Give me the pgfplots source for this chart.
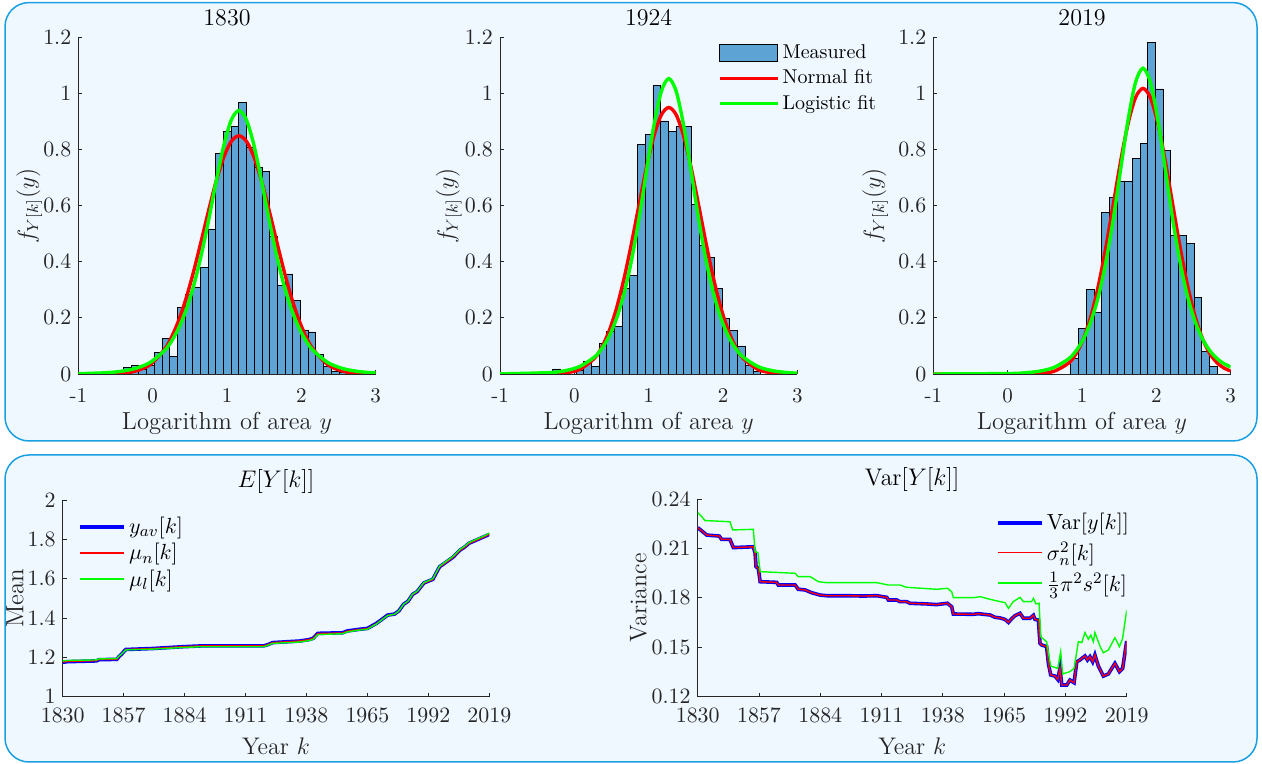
\documentclass[border=0pt]{standalone}
\usepackage{amsmath}
\usepackage{pgfplots}
\pgfplotsset{compat=1.18}
\definecolor{panelfill}{RGB}{240,248,255}
\definecolor{panelborder}{RGB}{25,160,225}
\definecolor{barfill}{RGB}{93,164,212}
\definecolor{axcol}{RGB}{38,38,38}
\definecolor{fitred}{RGB}{255,0,0}
\definecolor{fitgreen}{RGB}{0,255,0}
\definecolor{lineblue}{RGB}{0,0,255}

\pgfplotsset{
  every axis title shift=0pt,
  mybase/.style={
    scale only axis, axis lines*=left,
    axis line style={axcol, line width=0.45pt},
    tick align=inside, major tick length=2pt,
    tick style={axcol, line width=0.45pt},
    tick label style={font=\fontsize{10.5}{12}\selectfont, text=axcol},
    x tick label style={yshift=-2.5pt},
    label style={font=\fontsize{11.5}{13}\selectfont, text=axcol},
    title style={font=\fontsize{12}{14}\selectfont, text=black},
    legend cell align=left,
  },
  hist/.style={
    mybase, width=148.7pt, height=168.15pt,
    xmin=-1, xmax=3, ymin=0, ymax=1.2,
    xtick={-1,0,1,2,3}, xticklabels={-1,0,1,2,3},
    x tick label style={yshift=-1.2pt},
    ytick={0,0.2,0.4,0.6,0.8,1,1.2},
    xlabel={Logarithm of area $y$},
    ylabel={$f_{Y[k]}(y)$},
    xlabel style={at={(axis description cs:0.5,-0.146)}, anchor=center, font=\fontsize{12.3}{14}\selectfont},
    ylabel style={font=\fontsize{12}{14}\selectfont},
    title style={at={(axis description cs:0.5,1.059)}, anchor=center},
  },
  bars/.style={ybar interval, fill=barfill, draw=black, line width=0.4pt,
    legend image code/.code={\draw[fill=barfill, draw=black, line width=0.5pt] (0pt,-4.4pt) rectangle (29pt,4.4pt);}},
  nfit/.style={fitred, line width=1.7pt, smooth,
    legend image code/.code={\draw[draw=fitred, line width=1.7pt] (0pt,0pt) -- (29pt,0pt);}},
  lfit/.style={fitgreen, line width=1.7pt, smooth,
    legend image code/.code={\draw[draw=fitgreen, line width=1.7pt] (0pt,0pt) -- (29pt,0pt);}},
  ts/.style={
    mybase, xmin=1830, xmax=2019,
    xtick={1830,1857,1884,1911,1938,1965,1992,2019},
    x tick label style={/pgf/number format/1000 sep={}},
    xlabel={Year $k$},
    xlabel style={at={(axis description cs:0.5,-0.25)}, anchor=center, font=\fontsize{12}{14}\selectfont},
    legend style={draw=none, fill=none, font=\fontsize{11}{13}\selectfont, inner sep=0pt, row sep=0.4pt,
      nodes={inner sep=1.5pt}},
  },
  tblue/.style={lineblue, line width=1.8pt,
    legend image code/.code={\draw[draw=lineblue, line width=1.8pt] (0pt,0pt) -- (22pt,0pt);}},
  tred/.style={fitred, line width=0.7pt,
    legend image code/.code={\draw[draw=fitred, line width=0.95pt] (0pt,0pt) -- (22pt,0pt);}},
  tgreen/.style={fitgreen, line width=0.7pt,
    legend image code/.code={\draw[draw=fitgreen, line width=0.95pt] (0pt,0pt) -- (22pt,0pt);}},
}

\begin{document}
\begin{tikzpicture}
\useasboundingbox (0pt,0pt) rectangle (631pt,382pt);
\fill[white] (0pt,0pt) rectangle (631pt,382pt);
\draw[panelborder, fill=panelfill, line width=0.75pt, rounded corners=12pt] (2.5pt,161.5pt) rectangle (628.5pt,380.7pt);
\draw[panelborder, fill=panelfill, line width=0.75pt, rounded corners=12pt] (2.5pt,1pt) rectangle (628.5pt,154.5pt);

% ---------- 1830 ----------
\begin{axis}[hist, at={(39.15pt,195pt)}, anchor=south west, title={1830},
  ylabel style={at={(axis description cs:-0.165,0.5)}, anchor=center}]
\addplot[bars] coordinates {(-0.3925,0.022) (-0.2890,0.031) (-0.1855,0.016) (-0.0820,0.030) (0.0215,0.078) (0.1250,0.126) (0.2285,0.063) (0.3320,0.238) (0.4355,0.285) (0.5390,0.309) (0.6425,0.381) (0.7460,0.516) (0.8495,0.787) (0.9530,0.866) (1.0565,0.882) (1.1600,0.969) (1.2635,0.809) (1.3670,0.737) (1.4705,0.724) (1.5740,0.492) (1.6775,0.316) (1.7810,0.357) (1.8845,0.262) (1.9880,0.157) (2.0915,0.150) (2.1950,0.070) (2.2985,0.026) (2.4020,0.011) (2.5055,0.005) (2.6090,0)};
\addplot[nfit] coordinates {(-1,0) (-0.64,0.0005) (-0.44,0.0025) (-0.24,0.0099) (-0.04,0.0322) (0.16,0.0876) (0.26,0.135) (0.36,0.198) (0.46,0.279) (0.56,0.375) (0.66,0.482) (0.76,0.591) (0.86,0.693) (0.96,0.776) (1.06,0.831) (1.16,0.85) (1.26,0.831) (1.36,0.776) (1.46,0.693) (1.56,0.591) (1.66,0.482) (1.76,0.375) (1.86,0.279) (1.96,0.198) (2.06,0.135) (2.16,0.0876) (2.36,0.0322) (2.56,0.0099) (2.76,0.0025) (2.96,0.0005) (3,0.0004)};
\addplot[lfit] coordinates {(-1,0.0011) (-0.64,0.0043) (-0.44,0.0091) (-0.24,0.0193) (-0.04,0.0403) (0.16,0.0835) (0.26,0.1196) (0.36,0.1691) (0.46,0.2357) (0.56,0.3232) (0.66,0.4318) (0.76,0.5588) (0.86,0.6945) (0.96,0.819) (1.06,0.9076) (1.16,0.94) (1.26,0.9076) (1.36,0.819) (1.46,0.6945) (1.56,0.5588) (1.66,0.4318) (1.76,0.3232) (1.86,0.2357) (1.96,0.1691) (2.06,0.1196) (2.16,0.0835) (2.36,0.0403) (2.56,0.0193) (2.76,0.0091) (2.96,0.0043) (3,0.0039)};
\end{axis}

% ---------- 1924 ----------
\begin{axis}[hist, at={(250pt,195pt)}, anchor=south west, title={1924},
  ylabel style={at={(axis description cs:-0.172,0.5)}, anchor=center},
  legend style={at={(0.732,0.99)}, anchor=north west, draw=none, fill=none,
    font=\fontsize{10}{12}\selectfont, inner sep=0pt, row sep=1.2pt,
    nodes={inner sep=1.5pt}}]
\addplot[bars] coordinates {(-0.2890,0.018) (-0.1855,0) (-0.0820,0) (0.0215,0.012) (0.1250,0.044) (0.2285,0.026) (0.3320,0.110) (0.4355,0.153) (0.5390,0.171) (0.6425,0.306) (0.7460,0.352) (0.8495,0.819) (0.9530,0.856) (1.0565,1.029) (1.1600,0.903) (1.2635,0.867) (1.3670,0.882) (1.4705,0.882) (1.5740,0.604) (1.6775,0.459) (1.7810,0.415) (1.8845,0.306) (1.9880,0.199) (2.0915,0.154) (2.1950,0.100) (2.2985,0.030) (2.4020,0.010) (2.5055,0)};
\addlegendentry{Measured}
\addplot[nfit] coordinates {(-1,0) (-0.33,0.0007) (-0.13,0.0037) (0.07,0.016) (0.27,0.0559) (0.37,0.0958) (0.47,0.155) (0.57,0.2372) (0.67,0.3427) (0.77,0.4682) (0.87,0.6043) (0.97,0.7368) (1.07,0.849) (1.17,0.9245) (1.27,0.951) (1.37,0.9245) (1.47,0.849) (1.57,0.7368) (1.67,0.6043) (1.77,0.4682) (1.87,0.3427) (1.97,0.2372) (2.07,0.155) (2.17,0.0958) (2.27,0.0559) (2.47,0.016) (2.67,0.0037) (2.87,0.0007) (3,0.0002)};
\addlegendentry{Normal fit}
\addplot[lfit] coordinates {(-1,0.0003) (-0.33,0.005) (-0.13,0.0115) (0.07,0.0265) (0.27,0.0604) (0.37,0.0906) (0.47,0.1356) (0.57,0.2) (0.67,0.2889) (0.77,0.4076) (0.87,0.5554) (0.97,0.7237) (1.07,0.8868) (1.17,1.0085) (1.27,1.054) (1.37,1.0085) (1.47,0.8868) (1.57,0.7237) (1.67,0.5554) (1.77,0.4076) (1.87,0.2889) (1.97,0.2) (2.07,0.1356) (2.17,0.0906) (2.27,0.0604) (2.47,0.0265) (2.67,0.0115) (2.87,0.005) (3,0.0029)};
\addlegendentry{Logistic fit}
\end{axis}

% ---------- 2019 ----------
\begin{axis}[hist, at={(466.65pt,195pt)}, anchor=south west, title={2019},
  ylabel style={at={(axis description cs:-0.195,0.5)}, anchor=center}]
\addplot[bars] coordinates {(0.8495,0.054) (0.9530,0.163) (1.0565,0.302) (1.1600,0.220) (1.2635,0.577) (1.3670,0.630) (1.4705,0.686) (1.5740,0.687) (1.6775,0.769) (1.7810,0.823) (1.8845,1.182) (1.9880,1.017) (2.0915,0.797) (2.1950,0.495) (2.2985,0.494) (2.4020,0.466) (2.5055,0.274) (2.6090,0.080) (2.7125,0.026) (2.8160,0)};
\addplot[nfit] coordinates {(-1,0) (0.22,0.0002) (0.42,0.0017) (0.62,0.0093) (0.82,0.0391) (0.92,0.0725) (1.02,0.1264) (1.12,0.2061) (1.22,0.315) (1.32,0.4509) (1.42,0.6047) (1.52,0.7599) (1.62,0.8944) (1.72,0.9863) (1.82,1.019) (1.92,0.9863) (2.02,0.8944) (2.12,0.7599) (2.22,0.6047) (2.32,0.4509) (2.42,0.315) (2.52,0.2061) (2.62,0.1264) (2.72,0.0725) (2.82,0.0391) (2.92,0.0197) (3,0.0109)};
\addplot[lfit] coordinates {(-1,0) (0,0.0016) (0.22,0.0041) (0.42,0.0097) (0.62,0.023) (0.82,0.0541) (0.92,0.0828) (1.02,0.1253) (1.12,0.188) (1.22,0.2765) (1.32,0.3979) (1.42,0.5516) (1.52,0.7311) (1.62,0.9071) (1.72,1.0406) (1.82,1.091) (1.92,1.0406) (2.02,0.9071) (2.12,0.7311) (2.22,0.5516) (2.32,0.3979) (2.42,0.2765) (2.52,0.188) (2.62,0.1253) (2.72,0.0828) (2.82,0.0541) (2.92,0.0353) (3,0.025)};
\end{axis}

% ---------- Mean ----------
\begin{axis}[ts, at={(31.35pt,33.65pt)}, anchor=south west, width=213.3pt, height=98.35pt,
  ymin=1, ymax=2, ytick={1,1.2,1.4,1.6,1.8,2},
  ylabel={Mean}, ylabel style={at={(axis description cs:-0.112,0.5)}, anchor=center, font=\fontsize{12.5}{14}\selectfont},
  title={$E[Y[k]]$}, title style={at={(axis description cs:0.5,1.093)}, anchor=center},
  legend style={at={(0.036,0.93)}, anchor=north west}]
\addplot[tblue] coordinates {(1830,1.175) (1832,1.178) (1845,1.182) (1846,1.188) (1854,1.19) (1855,1.205) (1856,1.215) (1857.5,1.235) (1858,1.24) (1870,1.245) (1883,1.254) (1891,1.258) (1919,1.258) (1921,1.265) (1923,1.275) (1935,1.283) (1939,1.29) (1941,1.297) (1943,1.322) (1954,1.325) (1956,1.334) (1961,1.342) (1965,1.347) (1967,1.36) (1969,1.373) (1972,1.398) (1974,1.415) (1977,1.42) (1979,1.437) (1981,1.47) (1983,1.485) (1985,1.52) (1987,1.534) (1990,1.578) (1994,1.597) (1996,1.64) (1997,1.661) (2000,1.685) (2003,1.71) (2006,1.745) (2008,1.76) (2010,1.78) (2013,1.795) (2015,1.805) (2017,1.815) (2019,1.825)};
\addlegendentry{$y_{av}[k]$}
\addplot[tred] coordinates {(1830,1.176) (1832,1.179) (1845,1.183) (1846,1.189) (1854,1.19) (1855,1.205) (1856,1.215) (1857.5,1.235) (1858,1.24) (1870,1.245) (1883,1.254) (1891,1.258) (1919,1.258) (1921,1.265) (1923,1.275) (1935,1.283) (1939,1.29) (1941,1.297) (1943,1.321) (1954,1.324) (1956,1.333) (1961,1.341) (1965,1.346) (1967,1.359) (1969,1.372) (1972,1.397) (1974,1.414) (1977,1.419) (1979,1.436) (1981,1.469) (1983,1.484) (1985,1.519) (1987,1.533) (1990,1.577) (1994,1.596) (1996,1.639) (1997,1.66) (2000,1.684) (2003,1.709) (2006,1.744) (2008,1.759) (2010,1.779) (2013,1.794) (2015,1.804) (2017,1.814) (2019,1.826)};
\addlegendentry{$\mu_n[k]$}
\addplot[tgreen] coordinates {(1830,1.182) (1832,1.184) (1845,1.187) (1846,1.192) (1854,1.194) (1855,1.207) (1856,1.216) (1857.5,1.233) (1858,1.238) (1870,1.242) (1883,1.25) (1891,1.254) (1919,1.254) (1921,1.262) (1923,1.271) (1935,1.278) (1939,1.285) (1941,1.292) (1943,1.316) (1954,1.32) (1956,1.329) (1961,1.338) (1965,1.343) (1967,1.357) (1969,1.37) (1972,1.396) (1974,1.413) (1977,1.419) (1979,1.437) (1981,1.47) (1983,1.486) (1985,1.522) (1987,1.536) (1990,1.58) (1994,1.6) (1996,1.643) (1997,1.664) (2000,1.689) (2003,1.714) (2006,1.749) (2008,1.764) (2010,1.784) (2013,1.799) (2015,1.809) (2017,1.819) (2019,1.832)};
\addlegendentry{$\mu_l[k]$}
\end{axis}

% ---------- Variance ----------
\begin{axis}[ts, at={(348.85pt,33.65pt)}, anchor=south west, width=214.5pt, height=98.85pt,
  ymin=0.12, ymax=0.24, ytick={0.12,0.15,0.18,0.21,0.24},
  yticklabel style={/pgf/number format/.cd, fixed, fixed zerofill, precision=2},
  ylabel={Variance}, ylabel style={at={(axis description cs:-0.138,0.5)}, anchor=center, font=\fontsize{12}{14}\selectfont},
  title={$\mathrm{Var}[Y[k]]$}, title style={at={(axis description cs:0.5,1.097)}, anchor=center},
  legend style={at={(0.695,0.945)}, anchor=north west, row sep=1.6pt}]
\addplot[tblue] coordinates {(1830,0.2226) (1831.8,0.2206) (1834,0.2181) (1839.5,0.2175) (1840.5,0.2155) (1844.2,0.2155) (1845.7,0.2105) (1854.5,0.211) (1855.3,0.207) (1855.7,0.1989) (1856.7,0.1979) (1857.5,0.1898) (1864.8,0.1894) (1865.5,0.1878) (1872.9,0.1878) (1874.3,0.1852) (1877.3,0.1848) (1880.2,0.1831) (1883.9,0.1817) (1886.8,0.1813) (1895.6,0.1813) (1903,0.1811) (1908.9,0.1813) (1913.3,0.1803) (1914,0.1787) (1917.7,0.1787) (1919,0.1777) (1922,0.1777) (1923.5,0.1767) (1930.9,0.1763) (1935.3,0.1759) (1937.5,0.1763) (1940,0.1767) (1941.9,0.1746) (1942.6,0.1702) (1951.4,0.17) (1953.6,0.1704) (1956,0.17) (1958.8,0.1696) (1961,0.1682) (1963.2,0.1678) (1965.4,0.1669) (1966.9,0.1651) (1968.3,0.1673) (1969.8,0.1692) (1972,0.1706) (1973.5,0.1676) (1976.4,0.1676) (1977.9,0.1694) (1978.6,0.1669) (1980.1,0.1665) (1980.8,0.1524) (1981.5,0.1514) (1983.7,0.1504) (1984.5,0.1402) (1985.5,0.1332) (1987.4,0.1325) (1988.6,0.1305) (1989.6,0.1372) (1990.4,0.1271) (1992.6,0.1271) (1994,0.1301) (1995.8,0.1285) (1997,0.1412) (1998.4,0.1423) (2000.6,0.1447) (2001.7,0.1423) (2002.8,0.1443) (2004,0.1412) (2005,0.1453) (2006.5,0.1386) (2008.7,0.1325) (2010.9,0.1338) (2013.8,0.1402) (2015.8,0.1352) (2017.2,0.1372) (2019,0.1538)};
\addlegendentry{$\mathrm{Var}[y[k]]$}
\addplot[tred] coordinates {(1830,0.2226) (1831.8,0.2206) (1834,0.2181) (1839.5,0.2175) (1840.5,0.2155) (1844.2,0.2155) (1845.7,0.2105) (1854.5,0.211) (1855.3,0.207) (1855.7,0.1989) (1856.7,0.1979) (1857.5,0.1898) (1864.8,0.1894) (1865.5,0.1878) (1872.9,0.1878) (1874.3,0.1852) (1877.3,0.1848) (1880.2,0.1831) (1883.9,0.1817) (1886.8,0.1813) (1895.6,0.1813) (1903,0.1811) (1908.9,0.1813) (1913.3,0.1803) (1914,0.1787) (1917.7,0.1787) (1919,0.1777) (1922,0.1777) (1923.5,0.1767) (1930.9,0.1763) (1935.3,0.1759) (1937.5,0.1763) (1940,0.1767) (1941.9,0.1746) (1942.6,0.1702) (1951.4,0.17) (1953.6,0.1704) (1956,0.17) (1958.8,0.1696) (1961,0.1682) (1963.2,0.1678) (1965.4,0.1669) (1966.9,0.1651) (1968.3,0.1673) (1969.8,0.1692) (1972,0.1706) (1973.5,0.1676) (1976.4,0.1676) (1977.9,0.1694) (1978.6,0.1669) (1980.1,0.1665) (1980.8,0.1524) (1981.5,0.1514) (1983.7,0.1504) (1984.5,0.1402) (1985.5,0.1332) (1987.4,0.1325) (1988.6,0.1305) (1989.6,0.1372) (1990.4,0.1271) (1992.6,0.1271) (1994,0.1301) (1995.8,0.1285) (1997,0.1412) (1998.4,0.1423) (2000.6,0.1447) (2001.7,0.1423) (2002.8,0.1443) (2004,0.1412) (2005,0.1453) (2006.5,0.1386) (2008.7,0.1325) (2010.9,0.1338) (2013.8,0.1402) (2015.8,0.1352) (2017.2,0.1372) (2019,0.1538)};
\addlegendentry{$\sigma_n^2[k]$}
\addplot[tgreen] coordinates {(1830,0.2317) (1831.8,0.2293) (1833.2,0.2269) (1844.2,0.2262) (1845.4,0.2212) (1854.5,0.2216) (1855.3,0.208) (1856.5,0.2075) (1857.5,0.1959) (1872.9,0.1949) (1874.3,0.1929) (1879.5,0.1929) (1883.2,0.1898) (1886.8,0.1892) (1908.9,0.1892) (1914,0.1878) (1919.1,0.1878) (1922,0.1864) (1935.3,0.1852) (1940,0.1858) (1941.9,0.1837) (1942.6,0.1801) (1951.4,0.1801) (1954.4,0.1807) (1958.8,0.1791) (1963.2,0.1777) (1965.4,0.1771) (1966.9,0.1736) (1969,0.1777) (1972,0.1803) (1973.5,0.1777) (1977.1,0.1777) (1977.9,0.1797) (1979,0.1763) (1980.4,0.1767) (1981.1,0.1564) (1983.7,0.1534) (1985.5,0.1386) (1988.6,0.1372) (1989.9,0.1473) (1990.8,0.1338) (1994,0.1352) (1995.8,0.1372) (1997.7,0.1534) (1999.2,0.1528) (2000.6,0.1589) (2002.1,0.1549) (2003.2,0.1574) (2004.3,0.1534) (2005,0.1589) (2007.3,0.1504) (2008.7,0.1467) (2010.9,0.1483) (2013.8,0.1558) (2015.8,0.1504) (2017.2,0.1554) (2019,0.1726)};
\addlegendentry{$\tfrac{1}{3}\pi^2 s^2[k]$}
\end{axis}
\end{tikzpicture}
\end{document}
